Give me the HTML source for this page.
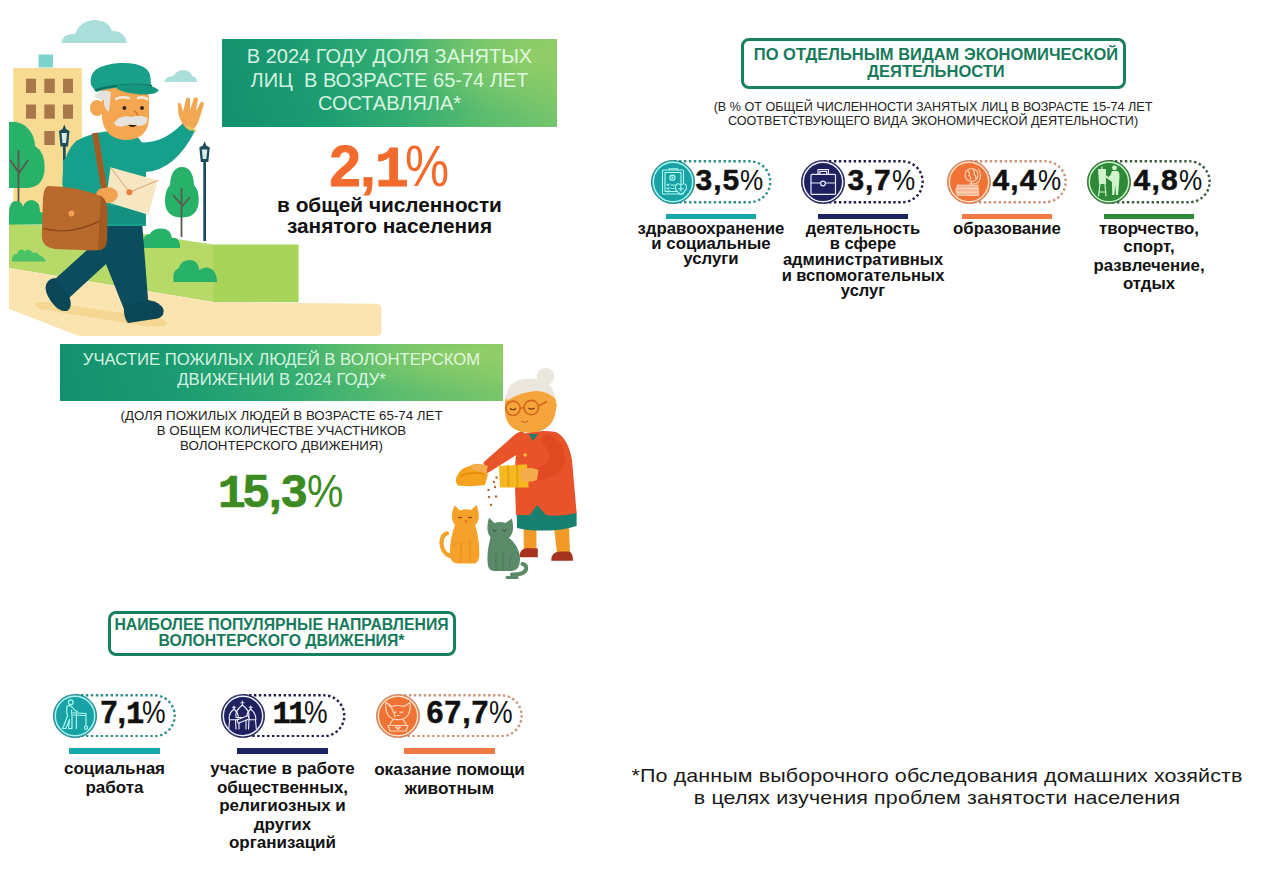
<!DOCTYPE html>
<html><head><meta charset="utf-8">
<style>
html,body{margin:0;padding:0;background:#fff;}
body{width:1280px;height:887px;position:relative;overflow:hidden;font-family:"Liberation Sans",sans-serif;color:#111;}
.a{position:absolute;}
.t{position:absolute;white-space:nowrap;text-align:center;}
.banner{position:absolute;background:radial-gradient(ellipse 40% 70% at 92% 20%,rgba(170,215,100,0.55),rgba(170,215,100,0) 100%),linear-gradient(75deg,#13906e 0%,#1c9c72 28%,#34ad72 52%,#5cbd6e 75%,#7ec66a 100%);}
.bx{position:absolute;border:3px solid #18805f;border-radius:8px;box-sizing:border-box;}
.bar{position:absolute;height:5px;}
.lbl{position:absolute;font-weight:bold;font-size:16.5px;line-height:15.5px;text-align:center;white-space:nowrap;color:#111;}
.num{position:absolute;white-space:nowrap;font-weight:bold;color:#111;-webkit-text-stroke:0.5px #111;}
.num span{font-weight:normal;-webkit-text-stroke:0;display:inline-block;transform:scaleX(0.87);transform-origin:0 0;}
.pct{font-weight:normal;-webkit-text-stroke:0;display:inline-block;transform:scaleX(0.87);transform-origin:0 0;}
.one{font-family:"Liberation Mono",monospace;font-weight:bold;letter-spacing:-2px;}
</style></head><body>

<!-- Banner 1 -->
<div class="banner" style="left:222px;top:39px;width:335px;height:87.5px;"></div>
<div class="t" style="left:222px;top:45px;width:335px;font-size:20px;line-height:23.5px;color:rgba(236,255,240,0.9);">В 2024 ГОДУ ДОЛЯ ЗАНЯТЫХ<br>ЛИЦ&nbsp; В ВОЗРАСТЕ 65-74 ЛЕТ<br>СОСТАВЛЯЛА*</div>

<div class="t" style="left:224.5px;top:135.5px;width:335px;font-size:57px;line-height:60px;font-weight:bold;color:#f26b2c;letter-spacing:-1px;-webkit-text-stroke:0.8px #f26b2c;">2,<b class="one" style="letter-spacing:-4px">1</b><span class="pct">%</span></div>
<div class="t" style="left:222px;top:195px;width:335px;font-size:20.8px;line-height:20.5px;font-weight:bold;color:#111;">в общей численности<br>занятого населения</div>

<!-- Right box -->
<div class="bx" style="left:741px;top:38px;width:385px;height:50.5px;"></div>
<div class="t" style="left:741px;top:46px;width:390px;font-size:16.5px;line-height:17.2px;font-weight:bold;color:#187a5c;">ПО ОТДЕЛЬНЫМ ВИДАМ ЭКОНОМИЧЕСКОЙ<br>ДЕЯТЕЛЬНОСТИ</div>
<div class="t" style="left:683px;top:99.5px;width:500px;font-size:12.6px;line-height:14.8px;color:#222;">(В % ОТ ОБЩЕЙ ЧИСЛЕННОСТИ ЗАНЯТЫХ ЛИЦ В ВОЗРАСТЕ 15-74 ЛЕТ<br>СООТВЕТСТВУЮЩЕГО ВИДА ЭКОНОМИЧЕСКОЙ ДЕЯТЕЛЬНОСТИ)</div>

<!-- Banner 2 -->
<div class="banner" style="left:60px;top:344px;width:443px;height:57px;"></div>
<div class="t" style="left:60px;top:349.5px;width:443px;font-size:16.7px;line-height:20.5px;color:rgba(236,255,240,0.9);">УЧАСТИЕ ПОЖИЛЫХ ЛЮДЕЙ В ВОЛОНТЕРСКОМ<br>ДВИЖЕНИИ В 2024 ГОДУ*</div>
<div class="t" style="left:60px;top:409px;width:443px;font-size:13.3px;line-height:14.8px;color:#222;">(ДОЛЯ ПОЖИЛЫХ ЛЮДЕЙ В ВОЗРАСТЕ 65-74 ЛЕТ<br>В ОБЩЕМ КОЛИЧЕСТВЕ УЧАСТНИКОВ<br>ВОЛОНТЕРСКОГО ДВИЖЕНИЯ)</div>
<div class="t" style="left:61.5px;top:466px;width:443px;font-size:47px;line-height:50px;font-weight:bold;color:#3b8b22;letter-spacing:-0.5px;-webkit-text-stroke:0.7px #3b8b22;"><b class="one" style="letter-spacing:-3px">1</b>5,3<span class="pct">%</span></div>

<!-- Lower box -->
<div class="bx" style="left:107.5px;top:611px;width:348px;height:44.5px;"></div>
<div class="t" style="left:107.5px;top:616.5px;width:348px;font-size:15.8px;line-height:16.3px;font-weight:bold;color:#187a5c;">НАИБОЛЕЕ ПОПУЛЯРНЫЕ НАПРАВЛЕНИЯ<br>ВОЛОНТЕРСКОГО ДВИЖЕНИЯ*</div>

<!-- Footnote -->
<div class="t" style="left:586.5px;top:765px;width:700px;font-size:18.5px;line-height:21.8px;color:#1a1a1a;letter-spacing:0.1px;transform:scaleX(1.16);transform-origin:350px 0;">*По данным выборочного обследования домашних хозяйств<br>в целях изучения проблем занятости населения</div>

<svg class="a" style="left:672.5px;top:160.25px" width="100.5" height="43.5"><path d="M1,1.3 H76.8 A20.4,20.4 0 0 1 76.8,42.2 H1" fill="none" stroke="#2d8f88" stroke-width="2.4" stroke-linecap="butt" stroke-dasharray="2.4 2.55"/></svg>
<svg class="a" style="left:649.5px;top:159px" width="46" height="46" viewBox="-23 -23 46 46"><circle r="21.6" fill="#18a2a6" stroke="#2a7a80" stroke-width="0.8"/><circle r="19.7" fill="none" stroke="#a8f6ee" stroke-width="1.5"/><g stroke="#b0fbf2" fill="none" stroke-width="1.1" stroke-linejoin="round" stroke-linecap="round">
<rect x="-10.5" y="-12" width="21" height="24" rx="1"/>
<rect x="-8" y="-9.5" width="16" height="19"/>
<path d="M-4,-12 L-4,-13.3 L4.5,-13.3 L4.5,-12"/>
<circle cx="-0.6" cy="-4.3" r="2.6"/><path d="M-0.9,-5.5 L0.6,-4.3 L-0.9,-3.1 Z" fill="#b0fbf2" stroke-width="0.6"/>
<path d="M-6,2.5 L-5,3.5 L-4,2 M-6,6 L-5,7 L-4,5.5 M-6,9 L-5,10 L-4,8.5 M-2,3 L1.5,3 M-2,6.5 L1,6.5 M-2,9.5 L0.5,9.5"/>
<path d="M7.9,12.5 Q2,8.5 2.3,5 Q2.7,1.5 5.5,1.8 Q7,2 7.9,3.6 Q8.8,2 10.3,1.8 Q13.2,1.5 13.5,5 Q13.8,8.5 7.9,12.5 Z" fill="#18a2a6"/>
<path d="M7.9,4.5 L7.9,9 M5.6,6.8 L10.2,6.8"/>
</g></svg>
<div class="num" style="left:695.5px;top:164.9px;font-size:30px;line-height:30px;letter-spacing:1.0px">3,5<span>%</span></div>
<div class="bar" style="left:666px;top:214px;width:90px;height:5px;background:#17a9a9"></div>
<div class="lbl" style="left:561.0px;width:300px;top:221.1px;font-size:16.8px;line-height:15px">здравоохранение<br>и социальные<br>услуги</div>
<svg class="a" style="left:823px;top:160.25px" width="103" height="43.5"><path d="M1,1.3 H79.2 A20.4,20.4 0 0 1 79.2,42.2 H1" fill="none" stroke="#1c1f48" stroke-width="2.4" stroke-linecap="butt" stroke-dasharray="2.4 2.55"/></svg>
<svg class="a" style="left:800px;top:159px" width="46" height="46" viewBox="-23 -23 46 46"><circle r="21.6" fill="#1e2060" stroke="#2a2a50" stroke-width="0.8"/><circle r="19.7" fill="none" stroke="#eef0ff" stroke-width="1.5"/><g stroke="#e8eaff" fill="none" stroke-width="1.2" stroke-linejoin="round" stroke-linecap="round">
<rect x="-12" y="-7.6" width="24.5" height="20" rx="1"/>
<path d="M-12,1 L-2.5,1 M2.5,1 L12.5,1"/>
<circle cx="0" cy="1.5" r="2.4"/>
<path d="M-5,-7.6 L-5,-12.5 L5.5,-12.5 L5.5,-7.6 M-3.2,-7.6 L-3.2,-10.7 L3.7,-10.7 L3.7,-7.6"/>
</g></svg>
<div class="num" style="left:847.5px;top:164.9px;font-size:30px;line-height:30px;letter-spacing:0.8px">3,7<span>%</span></div>
<div class="bar" style="left:818px;top:214px;width:90px;height:5px;background:#1e2460"></div>
<div class="lbl" style="left:713.0px;width:300px;top:220.7px;font-size:16.5px;line-height:15.65px">деятельность<br>в сфере<br>административных<br>и вспомогательных<br>услуг</div>
<svg class="a" style="left:969px;top:160.25px" width="100" height="43.5"><path d="M1,1.3 H76.2 A20.4,20.4 0 0 1 76.2,42.2 H1" fill="none" stroke="#c99478" stroke-width="2.4" stroke-linecap="butt" stroke-dasharray="2.4 2.55"/></svg>
<svg class="a" style="left:946px;top:159px" width="46" height="46" viewBox="-23 -23 46 46"><circle r="21.6" fill="#f07235" stroke="#b98a70" stroke-width="0.8"/><circle r="19.7" fill="none" stroke="#fde3c8" stroke-width="1.5"/><g stroke="#fcd6bc" fill="none" stroke-width="1.1" stroke-linejoin="round" stroke-linecap="round">
<circle cx="2.5" cy="-7" r="6.5"/>
<path d="M-1,-11 Q1.5,-9 0,-6.5 Q2.5,-5 1.5,-2.5 M4,-12.5 Q6.5,-10 5,-7.5 Q7.5,-6 7,-3"/>
<path d="M9.5,-13 Q13.5,-6 9.5,0 Q6,3 1,1.5"/>
<path d="M2.5,-0.5 L2.5,3"/>
</g>
<g fill="#f8b898" stroke="#fde3c8" stroke-width="0.7">
<rect x="-12" y="3" width="21" height="3.6"/>
<rect x="-13" y="6.6" width="22.5" height="3.6"/>
<rect x="-12" y="10.2" width="21.5" height="3.4"/>
</g></svg>
<div class="num" style="left:992.5px;top:164.9px;font-size:30px;line-height:30px;letter-spacing:1.1px">4,4<span>%</span></div>
<div class="bar" style="left:962px;top:214px;width:90px;height:5px;background:#f07a40"></div>
<div class="lbl" style="left:857.0px;width:300px;top:220.8px;font-size:16.8px;line-height:15.5px">образование</div>
<svg class="a" style="left:1109px;top:160.25px" width="104" height="43.5"><path d="M1,1.3 H80.2 A20.4,20.4 0 0 1 80.2,42.2 H1" fill="none" stroke="#3c5a40" stroke-width="2.4" stroke-linecap="butt" stroke-dasharray="2.4 2.55"/></svg>
<svg class="a" style="left:1086px;top:159px" width="46" height="46" viewBox="-23 -23 46 46"><circle r="21.6" fill="#2e8a38" stroke="#3a5a3a" stroke-width="0.8"/><circle r="19.7" fill="none" stroke="#c8f4c4" stroke-width="1.5"/><g fill="#d2f4cc">
<circle cx="5.5" cy="-14.2" r="2.4"/>
<path d="M3,-11 L8.5,-11 Q10.5,-10 10.5,-6 L10,2 L9,13 L7,13 L6.2,3 L5.3,13 L3.2,13 L3,0 Q-1,-3 -5,-6 L-4.5,-7.5 L-0.5,-5 L1.5,-7 Z"/>
<path d="M-11,-13 L-3,-13 L-3,2 L-10,2 Z"/>
<path d="M-9,2 L-10.5,14.3 M-4,2 L-3,14.3 M-7,-13 L-7,-15.5 M-10,10 L-3.5,10" stroke="#d2f4cc" stroke-width="1.2" fill="none"/>
</g></svg>
<div class="num" style="left:1133.5px;top:164.9px;font-size:30px;line-height:30px;letter-spacing:1.3px">4,8<span>%</span></div>
<div class="bar" style="left:1104px;top:214px;width:90px;height:5px;background:#2f8a3c"></div>
<div class="lbl" style="left:999.0px;width:300px;top:219.6px;font-size:16.8px;line-height:18.6px">творчество,<br>спорт,<br>развлечение,<br>отдых</div>
<svg class="a" style="left:75px;top:693.75px" width="103" height="43.5"><path d="M1,1.3 H79.2 A20.4,20.4 0 0 1 79.2,42.2 H1" fill="none" stroke="#2d8f88" stroke-width="2.4" stroke-linecap="butt" stroke-dasharray="2.4 2.55"/></svg>
<svg class="a" style="left:52px;top:692.5px" width="46" height="46" viewBox="-23 -23 46 46"><circle r="21.6" fill="#18a2a6" stroke="#2a7a80" stroke-width="0.8"/><circle r="19.7" fill="none" stroke="#a8f6ee" stroke-width="1.5"/><g stroke="#b0fbf2" fill="none" stroke-width="1.15" stroke-linejoin="round" stroke-linecap="round">
<circle cx="-4.2" cy="-13.7" r="2.4"/>
<path d="M-8,-10 Q-5,-11 -3,-9 L0,-5.5 L2.5,-4.5 M-8,-10 Q-9,-5 -7.5,0 L-11.5,10.5 L-12.5,12.5 L-9,12.5 L-5.5,3.5 L-6.5,12.5 L-3,12.5 L-3,0 L-3.5,-6"/>
<path d="M-2,-3.3 L11,-2.5 M-2,-1 L11,-0.5 M1.4,-3 L1.4,12.5 M11,-2.5 L11,9.8"/>
<circle cx="11" cy="11.6" r="1.6"/>
</g></svg>
<div class="num" style="left:100.5px;top:697.2px;font-size:30.5px;line-height:30.5px;letter-spacing:0px">7,<b class="one" style="letter-spacing:-2px">1</b><span>%</span></div>
<div class="bar" style="left:69px;top:748px;width:91px;height:6px;background:#17a9a9"></div>
<div class="lbl" style="left:-35.5px;width:300px;top:760.4px;font-size:17px;line-height:18.5px">социальная<br>работа</div>
<svg class="a" style="left:242.5px;top:693.75px" width="104.5" height="43.5"><path d="M1,1.3 H80.8 A20.4,20.4 0 0 1 80.8,42.2 H1" fill="none" stroke="#1c1f48" stroke-width="2.4" stroke-linecap="butt" stroke-dasharray="2.4 2.55"/></svg>
<svg class="a" style="left:219.5px;top:692.5px" width="46" height="46" viewBox="-23 -23 46 46"><circle r="21.6" fill="#1e2060" stroke="#2a2a50" stroke-width="0.8"/><circle r="19.7" fill="none" stroke="#eef0ff" stroke-width="1.5"/><g stroke="#eeeeff" fill="none" stroke-width="1.1" stroke-linejoin="round" stroke-linecap="round">
<path d="M-0.6,-15 L-0.6,-11 M-2.2,-13.3 L1,-13.3"/>
<path d="M-0.6,-11 Q-8.5,-5 -7,1.5 L5.8,1.5 Q7.5,-5 -0.6,-11 Z"/>
<path d="M-9,-10 L-9,-7 M-10.5,-8.7 L-7.5,-8.7 M7.7,-10 L7.7,-7 M6.2,-8.7 L9.2,-8.7"/>
<path d="M-9,-7 Q-15,-2 -13.6,3.7 L-5,3.7 Q-3.5,-2 -9,-7 Z M7.7,-7 Q13.5,-2 12.7,3.7 L4,3.7 Q2.5,-2 7.7,-7 Z"/>
<path d="M-13.3,3.7 L-14.3,13 M-7.5,3.7 L-7,13 M12.5,3.7 L13.3,13 M6,3.7 L5.5,13 M-4,4 L-4,13 M3,4 L3,13"/>
<path d="M-6,4 L5,-0.5 L6.3,2.7 L-4.7,7.2 Z" fill="#1e2060"/>
</g></svg>
<div class="num" style="left:272.5px;top:697.2px;font-size:30.5px;line-height:30.5px;letter-spacing:-1.0px"><b class="one" style="letter-spacing:-2.5px">1</b><b class="one" style="letter-spacing:-2.5px">1</b><span>%</span></div>
<div class="bar" style="left:237px;top:748px;width:91px;height:6px;background:#1e2460"></div>
<div class="lbl" style="left:132.5px;width:300px;top:760.4px;font-size:17px;line-height:18.5px">участие в работе<br>общественных,<br>религиозных и<br>других<br>организаций</div>
<svg class="a" style="left:398px;top:693.75px" width="127" height="43.5"><path d="M1,1.3 H103.2 A20.4,20.4 0 0 1 103.2,42.2 H1" fill="none" stroke="#c99478" stroke-width="2.4" stroke-linecap="butt" stroke-dasharray="2.4 2.55"/></svg>
<svg class="a" style="left:375px;top:692.5px" width="46" height="46" viewBox="-23 -23 46 46"><circle r="21.6" fill="#f07235" stroke="#b98a70" stroke-width="0.8"/><circle r="19.7" fill="none" stroke="#fde3c8" stroke-width="1.5"/><g stroke="#fcd6bc" fill="none" stroke-width="1.2" stroke-linejoin="round" stroke-linecap="round">
<path d="M-12,-13.5 L-6,-9.5 Q0,-11.5 6,-9.5 L12,-13.5 Q13,-6 10,-1 Q7,3.7 0,3.7 Q-7,3.7 -10,-1 Q-13,-6 -12,-13.5 Z"/>
<path d="M-9,-11 Q-4,-6 -3,1 M-5,-4 Q-3.5,-3 -2,-4 M2,-4 Q3.5,-3 5,-4 M-1,-0.5 L1,-0.5"/>
<path d="M-5,3.7 Q-8,7 -8,9.5 M5,3.7 Q8,7 8,9.5"/>
<path d="M-10,9.5 L10,9.5 L8,15 L-8,15 Z"/>
<path d="M-2.5,11 L2.5,11 L0,13.3 Z"/>
</g></svg>
<div class="num" style="left:426.5px;top:697.2px;font-size:30.5px;line-height:30.5px;letter-spacing:0.9px">67,7<span>%</span></div>
<div class="bar" style="left:404px;top:748px;width:91px;height:6px;background:#f07a40"></div>
<div class="lbl" style="left:299.5px;width:300px;top:760.3px;font-size:17.2px;line-height:18.5px">оказание помощи<br>животным</div>
<svg class="a" style="left:0;top:0" width="600" height="600" viewBox="0 0 600 600">
<!-- clouds -->
<path d="M61,43 Q63,33 75,34 Q80,21 94,20 Q108,20 112,31 Q124,30 127,43 Z" fill="#a9dedb"/>
<path d="M164,82 Q166,76 173,76 Q177,70 184,70 Q191,71 192,76 Q197,77 197,82 Z" fill="#a9dedb"/>
<!-- building -->
<rect x="38.5" y="54.5" width="14.5" height="13" fill="#7fd3cf"/>
<rect x="13.3" y="68" width="68.5" height="150" fill="#f8db92"/>
<g fill="#a8784a">
<rect x="26" y="78.7" width="10" height="14.3"/><rect x="44.3" y="78.7" width="10.5" height="14.3"/><rect x="63" y="78.7" width="10" height="14.3"/>
<rect x="26" y="104.5" width="10" height="14.2"/><rect x="44.3" y="104.5" width="10.5" height="14.2"/><rect x="63" y="104.5" width="10" height="14.2"/>
<rect x="44.3" y="131" width="10.5" height="14"/>
</g>
<!-- grass -->
<path d="M9,223.7 Q80,226 143,234 L213,244.5 L213,302 L9,268 Z" fill="#b6d967"/>
<path d="M213,244.5 L298.6,244.5 L298.6,302.3 L213,302.3 Z" fill="#a9d45c"/>
<!-- sand path -->
<path d="M9,268 L213,302 L376,303.8 Q381.5,303.8 381.5,309 L381.5,330.5 Q381.5,336 376,336 L79,336 L9,309 Z" fill="#fae5b0"/>
<path d="M36,303 Q40,300 60,304 L160,318 Q170,322 165,326 Q150,328 120,322 L40,309 Q33,306 36,303 Z" fill="#f3d08a" opacity="0.75"/>
<!-- left tree -->
<path d="M9,122 Q25,120 33,136 Q35,142 35,146 Q45,152 44.6,168 Q44,188 26,188 L9,188 Z" fill="#27b169"/>
<path d="M18.5,150 L18.5,203 M18.5,172 L10,160 M18.5,174 L28,160" stroke="#5a5a50" stroke-width="1.8" fill="none"/>
<path d="M9,224.6 L9,213 Q9,201 16,201 Q22,201 23,207 Q25,200 32,200 Q40,201 40,212 L44,213 L44,224.6 Z" fill="#27b169"/>
<!-- left lamp -->
<rect x="63" y="144" width="2.7" height="44" fill="#1c4d5b"/>
<path d="M64.3,124.5 L66,129 L69.5,131 L68,146.5 L60.5,146.5 L59,131 L62.5,129 Z" fill="#1c4d5b"/>
<path d="M61.5,133 L67,133 L66,143 L62.5,143 Z" fill="#d8ece8"/>
<!-- right tree -->
<path d="M182,167 Q193,167 194,185 Q199,190 198.7,201 Q198,217.5 182,217.5 Q165,217.5 165,201 Q165,190 170,185 Q171,167 182,167 Z" fill="#27b169"/>
<path d="M181.5,188 L181.5,237 M181.5,205 L173,195 M181.5,207 L190,197" stroke="#5a5a50" stroke-width="1.8" fill="none"/>
<!-- right lamp -->
<rect x="203.3" y="160" width="2.7" height="81" fill="#1c4d5b"/>
<path d="M204.6,141.3 L206.3,145.5 L209.8,147.5 L208.3,162 L200.8,162 L199.3,147.5 L202.8,145.5 Z" fill="#1c4d5b"/>
<path d="M201.8,149.5 L207.3,149.5 L206.3,159 L202.8,159 Z" fill="#d8ece8"/>
<!-- bushes -->
<path d="M142.9,248 Q142,234 150,234 Q152,228.4 162,228.4 Q171,229 172,238 Q180,236 180,248 Z" fill="#27b169"/>
<path d="M173.6,282 Q172,270 179,268 Q181,260 190,260 Q199,261 199,270 Q207,265 213,270 Q217,275 217,282 Z" fill="#27b169"/>
<path d="M11.8,261.6 Q12,253 17,254 Q20,247 25,251 Q29,247 33,253 Q37,251 40,256 Q44,256 45.8,261.6 Z" fill="#4cc267"/>
<!-- man -->
<g id="man">
<path d="M108,221 L142,221 L148.4,304 L124.7,311 L106,264 L69,298 L55,279 L96,242 Z" fill="#0b4d5e"/>
<path d="M55,278 L69,296 Q73,306 68,310.5 Q61,313 54,305 Q46,296 45.5,288 Q46,279 55,278 Z" fill="#0a4656"/>
<path d="M124,305 L148,300 Q160,302 163.4,309 Q165,316 158,318.5 L128,323 Q123,317 124,305 Z" fill="#0a4656"/>
<path d="M76,141 Q95,131 112,131 L136,136 Q146,143 146,162 L146,226 L100,226 L70,215 Q60,195 63,170 Q66,150 76,141 Z" fill="#16a08c"/>
<path d="M104,206 L146,206 L145,224 L104,224 Z" fill="#139080"/>
<path d="M133,141 Q160,148 185,121 L195,131 Q175,170 146,172 Q136,160 133,141 Z" fill="#16a08c"/>
<path d="M63,160 Q60,186 97,200 L104,186 Q86,178 82,150 Z" fill="#16a08c"/>
<path d="M110.5,167.3 L157.8,180.4 L148.3,214.7 L105.7,201.7 Z" fill="#f6e7c2"/>
<path d="M110.5,167.3 L129.4,192.2 L157.8,180.4" fill="none" stroke="#d9a070" stroke-width="1"/>
<circle cx="129.4" cy="192.2" r="3" fill="#ef7a3a"/>
<ellipse cx="107" cy="195" rx="11" ry="8" fill="#f2a352"/>
<path d="M95,133 L104,188" stroke="#a55a24" stroke-width="6" fill="none"/>
<path d="M48,186 Q75,186 101,196 Q107,200 107.3,212 L107,240 Q106,250.5 95,250.5 L55,249 Q42,247 41.8,236 L43,198 Q44,187 48,186 Z" fill="#b8692c"/>
<path d="M43.4,228.4 Q70,236 101,220.5" fill="none" stroke="#8e4a1c" stroke-width="1.4"/>
<path d="M101,196 Q107,200 107.3,212 L107,240 Q106,250.5 98,250.5 L100,212 Z" fill="#a35a22"/>
<circle cx="71.4" cy="213.5" r="3" fill="#f4a050"/>
<path d="M110,127 L128,139 L140,132 L136,126 Z" fill="#1a9380"/>
<path d="M102,92 Q101,80 125,80 Q149,80 149,100 L149,118 Q148,140 125,140 Q104,138 102,118 Z" fill="#f5a651"/>
<ellipse cx="97" cy="108" rx="7" ry="8" fill="#f5a651"/>
<path d="M94,96 Q100,88 111,92 L109,112 Q103,108 104,100 Q98,100 94,96 Z" fill="#e3e2dc"/>
<path d="M116,99 Q121,96 129,98" stroke="#f0ede0" stroke-width="2.5" fill="none" stroke-linecap="round"/>
<path d="M138,98 Q143,96 147,99" stroke="#f0ede0" stroke-width="2.5" fill="none" stroke-linecap="round"/>
<circle cx="124.4" cy="108" r="2" fill="#3a2a20"/><circle cx="142" cy="108" r="2" fill="#3a2a20"/>
<path d="M134,111 Q140,114 137,119" stroke="#e07030" stroke-width="1.5" fill="none"/>
<path d="M114,123 Q120,114 132,117 Q140,114 147.5,118 Q148,126 138,126 Q130,123 124,126 Q116,128 114,123 Z" fill="#e6e4de"/>
<path d="M128,125 Q132,129 137,125 Z" fill="#2a1a14"/>
<path d="M91,85 Q87,65 120,63 Q151,62 150.7,80 L151,87 Q120,85 96,92 Z" fill="#18a08a"/>
<path d="M95,90 Q125,82 152,86" stroke="#0e6e60" stroke-width="2" fill="none"/>
<path d="M117,85 Q150,82 158.7,90 Q157,95 140,94.5 Q124,93 117,89 Z" fill="#17967f"/>
<path d="M186,128 Q178,120 178,108 Q177,100 181,104 L183,112 L186,99 Q188,96 190,99 L190,110 L194,98 Q197,96 198,99 L196,111 L201,102 Q204,101 204,104 L199,120 Q196,129 190,131 Z" fill="#f2a852"/>
<path d="M186,126 L196,131" stroke="#e3c860" stroke-width="2"/>
</g>

<!-- grandma -->
<g id="gma">
<!-- legs -->
<path d="M523.7,527 L536.4,527 L536.4,551.6 L523.7,551.6 Z" fill="#f29a28"/>
<path d="M554,527 L569,527 L570,553 L557,553 Z" fill="#f29a28"/>
<path d="M519.5,557.3 Q519,549 527,548 L537.8,548.5 L537.8,557.3 Z" fill="#a5341f"/>
<path d="M551.2,560.8 Q551,552 560,551.6 L569,551.6 Q573,553 573,560.8 Z" fill="#a5341f"/>
<!-- skirt -->
<path d="M518,503 L574,503 L576.6,513 L576.6,526 Q560,531 546,530.5 Q528,531 517,528 L516.7,513 Z" fill="#17806e"/>
<!-- coat body -->
<path d="M521,434 Q540,429 556,432 Q568,438 572,460 L576.6,513 Q560,517 546,515 L537,505 L530,515 L516,515 L515,486.8 Q514,450 521,434 Z" fill="#e8532a"/>
<path d="M529,434 L533,441 L538,434 Z" fill="#17806e"/>
<circle cx="525.2" cy="455" r="1.7" fill="#f7c030"/>
<!-- right sleeve -->
<path d="M548,434 Q566,442 565,462 Q560,478 538,480 L534,470 Q550,464 550,455 Q546,446 540,440 Z" fill="#e04a22"/>
<!-- left arm -->
<path d="M524,431 Q516,432 511,438 L483.3,462.4 L487.3,473.2 L521,452 Z" fill="#e8532a"/>
<!-- bowl -->
<path d="M457,476 Q461,467 472,465.6 Q486,466 487.8,475 L485,485 Q472,487 458,485.5 Q454,481 457,476 Z" fill="#f5a31e"/>
<path d="M460,476 Q472,471 485,474" stroke="#e58a10" stroke-width="1.5" fill="none"/>
<path d="M471,465 Q478,462 488,466 L486,473 Q478,471 472,470 Z" fill="#f4ac4e"/>
<!-- bag -->
<path d="M499,466 L527,464.2 L528.7,487.5 L500,487.5 Z" fill="#f5b820"/>
<path d="M508,465.5 L508.5,487 M517,465 L517.5,487" stroke="#e8a010" stroke-width="2"/>
<path d="M520,470 Q530,466 538.5,470 L537,480 Q530,483 522,481 Z" fill="#f4ac4e"/>
<!-- food -->
<g fill="#b06a34"><circle cx="496.5" cy="477.5" r="1.2"/><circle cx="494" cy="482" r="1.2"/><circle cx="488.5" cy="490" r="1.2"/><circle cx="495" cy="487" r="1.2"/><circle cx="489" cy="497" r="1.2"/><circle cx="496" cy="496.5" r="1.2"/><circle cx="491" cy="505" r="1.2"/></g>
<!-- head -->
<path d="M505,402 Q506,386 530,385 Q556,386 556.3,405 Q556,432.6 528,432.6 Q505,431 505,410 Z" fill="#f5a53c"/>
<circle cx="552" cy="405.6" r="4.8" fill="#f5a53c"/>
<circle cx="545.5" cy="376.5" r="8.8" fill="#ebe7dc"/>
<path d="M506.3,401 Q505,378.5 530,378.5 Q554,379 555,399 Q548,391 536,391 Q520,392 506.3,401 Z" fill="#ebe7dc"/>
<g fill="none" stroke="#d4661a" stroke-width="1.6"><circle cx="513" cy="408.3" r="7.2"/><circle cx="531.3" cy="407.6" r="7.2"/><path d="M520.2,408 L524.1,408 M538.5,406 L547,401.5"/></g>
<path d="M510,408.5 Q513,411 516,408.5 M528.5,408 Q531.5,410.5 534.5,408" stroke="#6a3210" stroke-width="1.1" fill="none"/>
<path d="M521,421 Q524.5,424 528,421" stroke="#c85a20" stroke-width="1" fill="none"/>
<!-- orange cat -->
<path d="M450,556 Q442,553 441.5,543 Q441.5,535 447,533.3" fill="none" stroke="#f5a22a" stroke-width="4.2" stroke-linecap="round"/>
<path d="M456,522 Q449,540 450,556 Q451,563.6 458,563.6 L474,563.6 Q480,563 479.3,552 Q479,535 474,522 Z" fill="#f5a22a"/>
<path d="M452,518 Q451.5,511 454.7,505.5 L460,510.5 Q466,508.5 471,510 L476.5,505 Q479.5,512 478.6,519 Q477,528 465,528.5 Q453,528 452,518 Z" fill="#f5a22a"/>
<path d="M458,517 Q460,519 462,517 M468,517 Q470,519 472,517" stroke="#6a3210" stroke-width="1" fill="none"/>
<path d="M464,520.5 L466,522.5 L468,520.5 Z" fill="#e0602a"/>
<path d="M461,542 L461,562 M470,540 L470,562 M452,545 Q456,546 458,543" stroke="#e58a18" stroke-width="1" fill="none"/>
<!-- green cat -->
<path d="M512,574.5 Q524,575 526,569.5 Q527,565 522.5,564" fill="none" stroke="#5a8a68" stroke-width="4" stroke-linecap="round"/>
<path d="M507,577.5 L517,577.5" stroke="#5a8a68" stroke-width="3" stroke-linecap="round"/>
<path d="M491,536 Q486,553 488,566 Q489,571 495,571 L512,571 Q520.5,570 520,558 Q519,545 508,537 Z" fill="#5a8a68"/>
<path d="M487.5,530 Q487,523 489,517.8 L494.5,523 Q500,521 505.5,523 L511.8,518.5 Q514,526 512.5,532 Q510,541 499,541.5 Q488.5,540 487.5,530 Z" fill="#5a8a68"/>
<path d="M492.5,530 Q494.5,532 496.5,530 M502.5,530 Q504.5,532 506.5,530" stroke="#2e4a36" stroke-width="0.9" fill="none"/>
<path d="M496,553 L496,570 M503,552 L503,570 M512,556 Q508,560 510,566" stroke="#4a7858" stroke-width="1" fill="none"/>
</g>
</svg>

</body></html>
